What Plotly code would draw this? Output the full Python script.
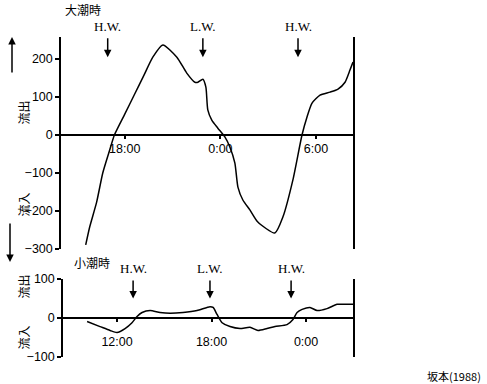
import plotly.graph_objects as go

# ---- data ----
# spring tide (大潮時): hours (18 = 18:00, 24 = 0:00, 30 = 6:00), flow
top_hours = [15.55, 15.80, 16.24, 16.62, 17.06, 17.35, 18.00, 18.60, 19.20, 19.76,
             20.39, 21.27, 21.89,
             22.40, 22.59, 22.90, 23.09, 23.21, 23.46, 23.84, 24.28, 24.60, 24.91,
             25.10, 25.41, 25.85, 26.35, 27.42, 27.92, 28.55, 29.12, 29.43, 29.75,
             30.25, 30.88, 31.38, 31.82, 32.13, 32.32]
top_flow = [-289, -242, -176, -100, -39, 0, 55, 106, 157, 205,
            237, 205, 163,
            139, 139, 147, 126, 66, 39, 18, -5, -32, -74,
            -137, -171, -197, -229, -258, -216, -118, 0, 47, 84,
            105, 113, 121, 139, 171, 192]
top_ticks = [18, 24, 30]
top_ticktext = ["18:00", "0:00", "6:00"]
top_yticks = [-300, -200, -100, 0, 100, 200]
top_marks_x = [16.93, 22.90, 28.87]
top_marks_text = ["H.W.", "L.W.", "H.W."]

# neap tide (小潮時): hours (12 = 12:00, 18 = 18:00, 24 = 0:00), flow
bot_hours = [10.10, 10.92, 11.56, 12.00, 12.51, 12.95, 13.27, 13.59, 14.10, 14.73,
             15.37, 16.19, 17.08, 17.90, 18.10, 18.35, 18.67, 19.17, 19.81, 20.44,
             20.95, 21.52, 22.03, 22.79, 23.17, 23.43, 23.75, 24.25, 24.70, 25.33,
             25.97, 26.60, 26.98]
bot_flow = [-9, -22, -32, -37, -27, -12, 4, 14, 19, 14,
            12, 14, 19, 29, 27, 9, -12, -22, -27, -24,
            -32, -27, -22, -17, -4, 14, 22, 27, 19, 24,
            35, 35, 35]
bot_ticks = [12, 18, 24]
bot_ticktext = ["12:00", "18:00", "0:00"]
bot_yticks = [-100, 0, 100]
bot_marks_x = [13.02, 17.90, 23.05]
bot_marks_text = ["H.W.", "L.W.", "H.W."]

W, H = 487, 384
top_yrange = [-300, 258]
bot_yrange = [-100, 100]
top_xrange = [14.0, 32.32]
bot_xrange = [8.57, 26.98]
top_dom_x = [61 / W, 353 / W]
top_dom_y = [1 - 249 / H, 1 - 37 / H]
bot_dom_x = [63 / W, 353 / W]
bot_dom_y = [1 - 357 / H, 1 - 279 / H]


def zero_pos(dom, rng):
    return dom[0] + (0 - rng[0]) / (rng[1] - rng[0]) * (dom[1] - dom[0])


num_font = dict(family="Liberation Sans, Arial, sans-serif", size=12.5, color="black")
cjk = "Noto Sans CJK JP"

fig = go.Figure()
line_style = dict(color="black", width=1.5, shape="spline", smoothing=0.6)
fig.add_trace(go.Scatter(x=top_hours, y=top_flow, mode="lines", line=line_style,
                         xaxis="x", yaxis="y", showlegend=False, hoverinfo="skip"))
fig.add_trace(go.Scatter(x=bot_hours, y=bot_flow, mode="lines", line=line_style,
                         xaxis="x2", yaxis="y2", showlegend=False, hoverinfo="skip"))

axis_common = dict(showgrid=False, zeroline=False, showline=True, linecolor="black",
                   linewidth=1.5, ticks="outside", tickcolor="black", tickwidth=1.5,
                   tickfont=num_font, automargin=False)

fig.update_layout(
    width=W, height=H, margin=dict(l=0, r=0, t=0, b=0, pad=0, autoexpand=False),
    paper_bgcolor="white", plot_bgcolor="white",
    xaxis=dict(domain=top_dom_x, range=top_xrange, anchor="free",
               position=zero_pos(top_dom_y, top_yrange),
               tickvals=top_ticks, ticktext=top_ticktext, ticklen=3,
               ticklabelstandoff=-1, **axis_common),
    yaxis=dict(domain=top_dom_y, range=top_yrange, anchor="x", mirror=True,
               tickvals=top_yticks, ticklen=4, **axis_common),
    xaxis2=dict(domain=bot_dom_x, range=bot_xrange, anchor="free",
                position=zero_pos(bot_dom_y, bot_yrange),
                tickvals=bot_ticks, ticktext=bot_ticktext, ticklen=3,
                ticklabelstandoff=9, **axis_common),
    yaxis2=dict(domain=bot_dom_y, range=bot_yrange, anchor="x2", mirror=True,
                tickvals=bot_yticks, ticklen=4, **axis_common),
)

ann = []
mark_font = dict(family="Liberation Serif, Times New Roman, serif", size=13, color="black")
for xv, t in zip(top_marks_x, top_marks_text):
    ann.append(dict(x=xv, y=205, xref="x", yref="y", text=t, showarrow=True,
                    arrowhead=2, arrowsize=1, arrowwidth=1.5, arrowcolor="black",
                    ax=0, ay=-31, font=mark_font, startstandoff=3))
for xv, t in zip(bot_marks_x, bot_marks_text):
    ann.append(dict(x=xv, y=50, xref="x2", yref="y2", text=t, showarrow=True,
                    arrowhead=2, arrowsize=1, arrowwidth=1.5, arrowcolor="black",
                    ax=0, ay=-30, font=mark_font, startstandoff=3))

lab_font = dict(family=cjk, size=12, color="black")
ann += [
    dict(x=63 / W, y=1 - 10 / H, xref="paper", yref="paper", text="大潮時",
         showarrow=False, xanchor="left", yanchor="middle", font=lab_font),
    dict(x=72 / W, y=1 - 262 / H, xref="paper", yref="paper", text="小潮時",
         showarrow=False, xanchor="left", yanchor="middle", font=lab_font),
    dict(x=12 / W, y=1 - 99 / H, xref="paper", yref="paper", text="流出",
         showarrow=False, textangle=-90, font=lab_font),
    dict(x=12 / W, y=1 - 205 / H, xref="paper", yref="paper", text="流入",
         showarrow=False, textangle=-90, font=lab_font),
    dict(x=12 / W, y=1 - 301 / H, xref="paper", yref="paper", text="流出",
         showarrow=False, textangle=-90, font=lab_font),
    dict(x=12 / W, y=1 - 352 / H, xref="paper", yref="paper", text="流入",
         showarrow=False, textangle=-90, font=lab_font),
    # side arrows (tail offset in pixels)
    dict(x=12 / W, y=1 - 37 / H, xref="paper", yref="paper", ax=0, ay=37,
         text="", showarrow=True, arrowhead=2,
         arrowsize=1, arrowwidth=1.5, arrowcolor="black"),
    dict(x=10 / W, y=1 - 262 / H, xref="paper", yref="paper", ax=0, ay=-40,
         text="", showarrow=True, arrowhead=2,
         arrowsize=1, arrowwidth=1.5, arrowcolor="black"),
    dict(x=483 / W, y=1 - 376 / H, xref="paper", yref="paper", text="坂本(1988)",
         showarrow=False, xanchor="right", yanchor="middle",
         font=dict(family=cjk, size=11, color="black")),
]
fig.update_layout(annotations=ann)

fig.write_html("out.html")
